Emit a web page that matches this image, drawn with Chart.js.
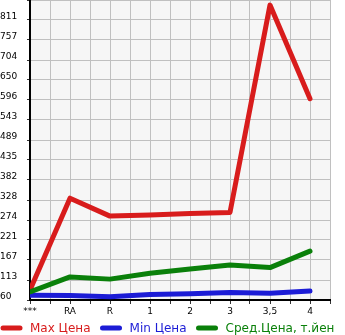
<!DOCTYPE html>
<html>
<head>
<meta charset="utf-8">
<script src="https://cdn.jsdelivr.net/npm/chart.js@4"></script>
<style>
  body { margin: 0; background: #fff; }
  canvas { display: block; }
</style>
</head>
<body>
<canvas id="chart" width="345" height="335"></canvas>
<script>
// categories along the bottom and the three price series
const categories = ['***', 'RA', 'R', '1', '2', '3', '3,5', '4'];
const maxPrice = [87, 333, 285, 288, 292, 295, 851, 600];
const minPrice = [73, 72, 69, 75, 77, 80, 78, 84];
const avgPrice = [82, 122, 116, 132, 143, 154, 147, 191];

// y tick values and the labels printed next to them
const yTicks = [60, 113.64, 167.29, 220.93, 274.57, 328.21, 381.86, 435.5, 489.14, 542.79, 596.43, 650.07, 703.71, 757.36, 811, 864.64];
const yLabels = ['60', '113', '167', '221', '274', '328', '382', '435', '489', '543', '596', '650', '704', '757', '811', ''];

const seriesNames = ['Max Цена', 'Min Цена', 'Сред.Цена, т.йен'];
const seriesColors = ['#d81c1c', '#1c1cd6', '#0a800a'];

Chart.defaults.font.family = 'DejaVu Sans';
Chart.defaults.font.size = 9;
Chart.defaults.color = '#000';

const toPoints = arr => arr.map((v, i) => ({ x: i, y: v }));

// grey plot background
const plotBg = {
  id: 'plotBg',
  beforeDraw(chart) {
    const a = chart.chartArea;
    const c = chart.ctx;
    c.save();
    c.fillStyle = '#f6f6f6';
    c.fillRect(a.left, a.top, a.right - a.left, a.bottom - a.top);
    c.restore();
  }
};

// legend drawn by hand so all three items stay on one row
const lineLegend = {
  id: 'lineLegend',
  afterDraw(chart) {
    const c = chart.ctx;
    const y = 328;
    let x = 0;
    c.save();
    c.font = '12px "DejaVu Sans"';
    c.textBaseline = 'middle';
    seriesNames.forEach((name, i) => {
      c.strokeStyle = seriesColors[i];
      c.lineWidth = 5;
      c.lineCap = 'round';
      c.beginPath();
      c.moveTo(x + 3, y);
      c.lineTo(x + 20, y);
      c.stroke();
      c.fillStyle = seriesColors[i];
      const w = Math.min(c.measureText(name).width, 116);
      c.fillText(name, x + 30, y + 1, 116);
      x += 30 + w + 9;
    });
    c.restore();
  }
};

const series = [maxPrice, minPrice, avgPrice];
const datasets = series.map((arr, i) => ({
  label: seriesNames[i],
  data: toPoints(arr),
  borderColor: seriesColors[i],
  backgroundColor: seriesColors[i],
  borderWidth: 5,
  pointRadius: 0,
  tension: 0,
  order: series.length - i, // later series drawn on top
  borderCapStyle: 'round',
  borderJoinStyle: 'round'
}));

new Chart(document.getElementById('chart'), {
  type: 'line',
  data: { datasets },
  options: {
    responsive: false,
    animation: false,
    layout: { padding: { top: 0, right: 15, bottom: 20, left: 0 } },
    plugins: {
      legend: { display: false },
      tooltip: { enabled: false }
    },
    scales: {
      x: {
        type: 'linear',
        min: 0,
        max: 7.5,
        afterBuildTicks(scale) {
          const t = [];
          for (let v = 0; v <= 7.5; v += 0.5) t.push({ value: v });
          scale.ticks = t;
        },
        afterFit(scale) {
          scale.height = 15;
          scale.paddingLeft = 0;
          scale.paddingRight = 0;
        },
        grid: { color: '#c0c0c0', tickColor: '#333', tickLength: 4, lineWidth: 1 },
        border: { color: '#000', width: 2 },
        ticks: {
          autoSkip: false,
          maxRotation: 0,
          padding: 2,
          callback: v => Number.isInteger(v) ? categories[v] : ''
        }
      },
      y: {
        type: 'linear',
        min: 60,
        max: 864.64,
        afterBuildTicks(scale) {
          scale.ticks = yTicks.map(v => ({ value: v }));
        },
        afterFit(scale) {
          scale.width = 30;
          scale.paddingTop = 0;
          scale.paddingBottom = 0;
        },
        grid: { color: '#c0c0c0', tickColor: '#333', tickLength: 3, lineWidth: 1 },
        border: { color: '#000', width: 2 },
        ticks: {
          autoSkip: false,
          crossAlign: 'far',
          labelOffset: -3,
          callback: (v, i) => yLabels[i]
        }
      }
    }
  },
  plugins: [plotBg, lineLegend]
});
</script>
</body>
</html>
